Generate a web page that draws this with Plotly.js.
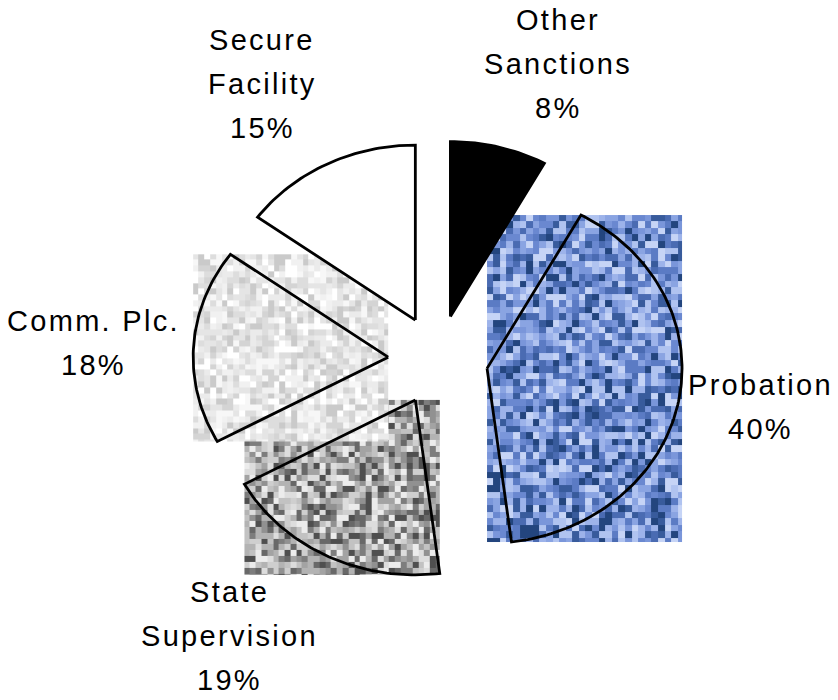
<!DOCTYPE html>
<html>
<head>
<meta charset="utf-8">
<script src="https://cdn.plot.ly/plotly-3.0.1.min.js"></script>
<style>
  html, body { margin: 0; padding: 0; background: #ffffff; }
  .annotation-text { letter-spacing: 2.3px; }
</style>
</head>
<body>
<div id="chart" style="width:838px;height:700px"></div>
<script>
// Share of dispositions (percent), drawn clockwise from 12 o'clock
const categoryLabels = ['Other<br>Sanctions', 'Probation', 'State<br>Supervision', 'Comm. Plc.', 'Secure<br>Facility'];
const shares = [8, 40, 19, 18, 15];

// ---- styling / layout constants ----
const W = 838, H = 700;
const CX = 438, CY = 360;      // pie centre in pixels
const RX = 195, RY = 175;      // horizontal / vertical radius in pixels (slightly oval pie)
const PULL = 0.256;            // explode distance, in radii
const OUTLINE = 2.8;

// fill style per slice: solid colour or a speckled texture filling the slice's bounding box
const sliceStyles = [
  { kind: 'solid', color: '#000000' },
  { kind: 'noise', block: 6.6, seed: 11,
    palette: ['#c6d4f6', '#b0c3f0', '#9db3ea', '#8aa4e2', '#7a96da', '#6a88d0', '#5b7bc4', '#4a6bb2', '#385b9c', '#23457e'] },
  { kind: 'noise', block: 5.8, seed: 23,
    palette: ['#ececec', '#dddddd', '#cfcfcf', '#c2c2c2', '#b3b3b3', '#a3a3a3', '#919191', '#7d7d7d', '#686868', '#4f4f4f'] },
  { kind: 'noise', block: 5.8, seed: 37,
    palette: ['#ffffff', '#f7f7f7', '#f1f1f1', '#ebebeb', '#e5e5e5', '#dddddd', '#d4d4d4', '#cacaca'] },
  { kind: 'solid', color: '#ffffff' }
];

// text block centres (pixels) for the outside labels
const labelPos = [[558, 64], [760, 407], [230, 636], [93, 343], [262, 84]];
const LINE_GAP = 44;

function mulberry32(a) {
  return function () {
    a |= 0; a = a + 0x6D2B79F5 | 0;
    let t = Math.imul(a ^ a >>> 15, 1 | a);
    t = t + Math.imul(t ^ t >>> 7, 61 | t) ^ t;
    return ((t ^ t >>> 14) >>> 0) / 4294967296;
  };
}

function noiseTexture(wPx, hPx, style) {
  const c = document.createElement('canvas');
  c.width = Math.max(1, wPx); c.height = Math.max(1, hPx);
  const ctx = c.getContext('2d');
  const rnd = mulberry32(style.seed);
  const b = style.block;
  for (let y = 0; y < hPx; y += b) {
    for (let x = 0; x < wPx; x += b) {
      ctx.fillStyle = style.palette[Math.floor(rnd() * style.palette.length)];
      ctx.fillRect(Math.floor(x), Math.floor(y), Math.ceil(b) + 1, Math.ceil(b) + 1);
    }
  }
  return c.toDataURL('image/png');
}

const total = shares.reduce((a, b) => a + b, 0);
const traces = [];
const images = [];
let acc = 0;

shares.forEach((v, i) => {
  const a0 = acc / total * 2 * Math.PI;
  const a1 = (acc + v) / total * 2 * Math.PI;
  acc += v;
  const mid = (a0 + a1) / 2;
  const ox = PULL * Math.sin(mid), oy = PULL * Math.cos(mid);
  const n = Math.max(10, Math.ceil(v * 3));
  const xs = [ox], ys = [oy];
  for (let k = 0; k <= n; k++) {
    const a = a0 + (a1 - a0) * k / n;
    xs.push(ox + Math.sin(a));
    ys.push(oy + Math.cos(a));
  }
  xs.push(ox); ys.push(oy);

  const st = sliceStyles[i];
  traces.push({
    type: 'scatter', mode: 'lines', x: xs, y: ys,
    fill: 'toself',
    fillcolor: st.kind === 'solid' ? st.color : 'rgba(0,0,0,0)',
    line: { color: '#000000', width: OUTLINE },
    name: categoryLabels[i].replace('<br>', ' '),
    text: shares[i] + '%', hoverinfo: 'name+text', hoveron: 'fills',
    showlegend: false
  });

  if (st.kind === 'noise') {
    const minX = Math.min(...xs), maxX = Math.max(...xs);
    const minY = Math.min(...ys), maxY = Math.max(...ys);
    const wPx = Math.round((maxX - minX) * RX);
    const hPx = Math.round((maxY - minY) * RY);
    images.push({
      source: noiseTexture(wPx, hPx, st),
      xref: 'x', yref: 'y', x: minX, y: maxY,
      sizex: maxX - minX, sizey: maxY - minY,
      sizing: 'stretch', xanchor: 'left', yanchor: 'top', layer: 'below'
    });
  }
});

const annotations = [];
shares.forEach((v, i) => {
  const lines = categoryLabels[i].split('<br>').concat([v + '%']);
  const nL = lines.length;
  lines.forEach((t, k) => {
    const py = labelPos[i][1] + (k - (nL - 1) / 2) * LINE_GAP;
    annotations.push({
      text: t, xref: 'paper', yref: 'paper',
      x: labelPos[i][0] / W, y: 1 - py / H,
      xanchor: 'center', yanchor: 'middle', showarrow: false,
      font: { family: 'Liberation Sans, Arial, sans-serif', size: 29, color: '#000000' }
    });
  });
});

const layout = {
  width: W, height: H,
  margin: { l: 0, r: 0, t: 0, b: 0, pad: 0 },
  paper_bgcolor: '#ffffff', plot_bgcolor: '#ffffff',
  xaxis: { range: [-CX / RX, (W - CX) / RX], visible: false, fixedrange: true },
  yaxis: { range: [-(H - CY) / RY, CY / RY], visible: false, fixedrange: true },
  images: images,
  annotations: annotations,
  hovermode: 'closest',
  showlegend: false
};

Plotly.newPlot('chart', traces, layout, { displayModeBar: false, staticPlot: false });
</script>
</body>
</html>
